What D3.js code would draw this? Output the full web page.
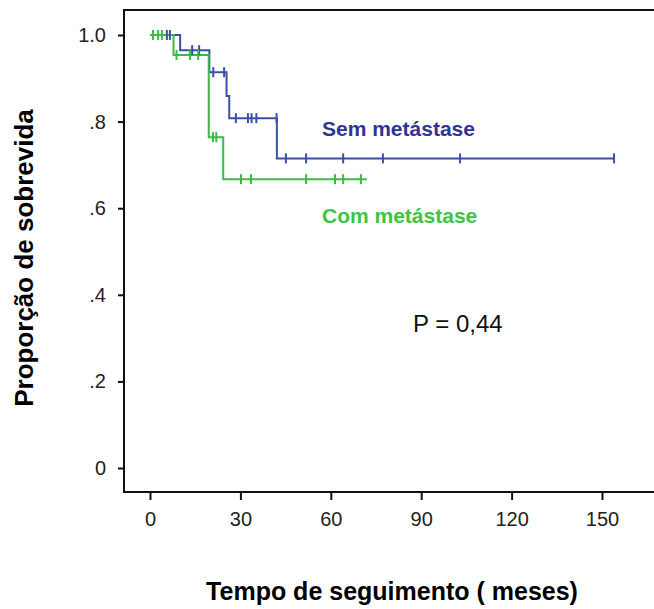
<!DOCTYPE html>
<html>
<head>
<meta charset="utf-8">
<script src="https://cdn.jsdelivr.net/npm/d3@7"></script>
<style>
  body { margin: 0; background: #fff; }
  svg { font-family: "Liberation Sans", Arial, sans-serif; }
</style>
</head>
<body>
<svg id="km" width="654" height="609"></svg>
<script>
// Kaplan-Meier steps (months, survival proportion)
const semTimes = [0, 10, 19.7, 25.4, 26.3, 42.1];
const semSurv = [1.0, 0.965, 0.914, 0.859, 0.808, 0.715];
const semEnd = 154;
const semCensored = [5.6, 6.6, 14, 16.3, 21, 24.6, 28.5, 32.5, 33.7, 35.3, 42, 45.1, 51.8, 64.1, 77.3, 102.9, 154];

const comTimes = [0, 7.8, 19.5, 24.3];
const comSurv = [1.0, 0.954, 0.764, 0.667];
const comEnd = 72;
const comCensored = [1, 2.7, 4, 8.8, 13.3, 16, 20.9, 22, 30.2, 33.5, 51.8, 61.4, 64.1, 70];

const xTicks = [0, 30, 60, 90, 120, 150];
const yTicks = [0, 0.2, 0.4, 0.6, 0.8, 1.0];
const yTickLabels = ["0", ".2", ".4", ".6", ".8", "1.0"];

const svg = d3.select("#km");
const width = +svg.attr("width");

const x = d3.scaleLinear().domain([0, 150]).range([150, 602]);
const y = d3.scaleLinear().domain([0, 1]).range([468, 35]);

// frame: left axis, top line and bottom axis run off the right edge
const frameLeft = 124, frameTop = 10, frameBottom = 492;
svg.append("path")
    .attr("d", `M${width},${frameTop}H${frameLeft}V${frameBottom}H${width}`)
    .attr("fill", "none")
    .attr("stroke", "#111")
    .attr("stroke-width", 2);

const yAxis = svg.append("g")
    .attr("transform", `translate(${frameLeft},0)`)
    .call(d3.axisLeft(y).tickValues(yTicks).tickSize(6).tickPadding(12)
        .tickFormat((d, i) => yTickLabels[i]));
const xAxis = svg.append("g")
    .attr("transform", `translate(0,${frameBottom})`)
    .call(d3.axisBottom(x).tickValues(xTicks).tickSize(8).tickPadding(12));

[yAxis, xAxis].forEach(function (ax) {
    ax.select(".domain").remove();
    ax.selectAll("line").attr("stroke", "#111").attr("stroke-width", 2);
    ax.selectAll("text")
        .attr("fill", "#222")
        .style("font-size", "20px")
        .style("font-family", "'Liberation Sans', Arial, sans-serif");
});

function stepData(times, surv, end) {
    const pts = [];
    times.forEach((t, i) => pts.push([t, surv[i]]));
    pts.push([end, surv[surv.length - 1]]);
    return pts;
}

function survAt(times, surv, t) {
    let s = surv[0];
    times.forEach((tt, i) => { if (tt <= t) s = surv[i]; });
    return s;
}

const line = d3.line()
    .x(d => x(d[0]))
    .y(d => y(d[1]))
    .curve(d3.curveStepAfter);

const groups = [
    { times: semTimes, surv: semSurv, end: semEnd, cens: semCensored, color: "#3c4fa6" },
    { times: comTimes, surv: comSurv, end: comEnd, cens: comCensored, color: "#3dba45" },
];

groups.forEach(function (g) {
    svg.append("path")
        .datum(stepData(g.times, g.surv, g.end))
        .attr("d", line)
        .attr("fill", "none")
        .attr("stroke", g.color)
        .attr("stroke-width", 2);
});

groups.forEach(function (g) {
    svg.selectAll(null)
        .data(g.cens)
        .enter()
        .append("line")
        .attr("x1", d => x(d))
        .attr("x2", d => x(d))
        .attr("y1", d => y(survAt(g.times, g.surv, d)) - 5)
        .attr("y2", d => y(survAt(g.times, g.surv, d)) + 5)
        .attr("stroke", g.color)
        .attr("stroke-width", 2);
});

svg.append("text")
    .attr("x", 322).attr("y", 136)
    .attr("fill", "#2f3590")
    .style("font-size", "21px").style("font-weight", "bold")
    .text("Sem metástase");

svg.append("text")
    .attr("x", 322).attr("y", 223)
    .attr("fill", "#3cc442")
    .style("font-size", "21px").style("font-weight", "bold")
    .text("Com metástase");

svg.append("text")
    .attr("x", 413).attr("y", 332)
    .attr("fill", "#111")
    .style("font-size", "24px")
    .text("P = 0,44");

svg.append("text")
    .attr("transform", "translate(33,258) rotate(-90)")
    .attr("text-anchor", "middle")
    .attr("fill", "#000")
    .style("font-size", "26px").style("font-weight", "bold")
    .text("Proporção de sobrevida");

svg.append("text")
    .attr("x", 392).attr("y", 600)
    .attr("text-anchor", "middle")
    .attr("fill", "#000")
    .style("font-size", "25px").style("font-weight", "bold")
    .text("Tempo de seguimento ( meses)");
</script>
</body>
</html>
